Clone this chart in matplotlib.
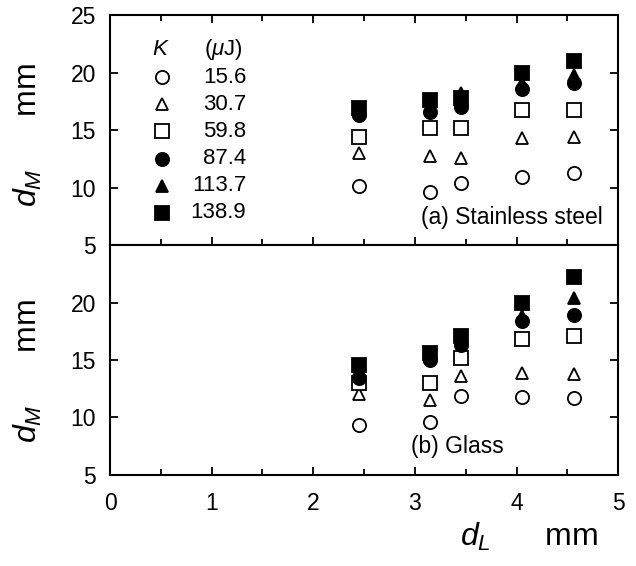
import matplotlib
matplotlib.use("Agg")
import matplotlib.pyplot as plt
from matplotlib.ticker import MultipleLocator

plt.rcParams['font.family'] = ['Liberation Sans', 'DejaVu Sans']
plt.rcParams['mathtext.fontset'] = 'custom'
plt.rcParams['mathtext.rm'] = 'Liberation Sans'
plt.rcParams['mathtext.it'] = 'Liberation Sans:italic'

# laser energies K (uJ) and marker styles
energies = ['15.6', '30.7', '59.8', '87.4', '113.7', '138.9']
markers = ['o', '^', 's', 'o', '^', 's']
filled = [False, False, False, True, True, True]

# d_L positions (mm)
d_L = [2.45, 3.15, 3.45, 4.05, 4.57]

# (a) stainless steel, d_M (mm), one list per energy
steel = [
    [10.1, 9.6, 10.4, 10.9, 11.3],
    [13.0, 12.7, 12.6, 14.3, 14.4],
    [14.4, 15.2, 15.2, 16.7, 16.7],
    [16.3, 16.6, 17.0, 18.6, 19.1],
    [16.6, 17.0, 18.2, 19.1, 19.8],
    [16.9, 17.6, 17.8, 20.0, 21.0],
]

# (b) glass
glass = [
    [9.3, 9.6, 11.9, 11.8, 11.7],
    [12.0, 11.5, 13.6, 13.9, 13.8],
    [13.0, 13.0, 15.2, 16.8, 17.1],
    [13.4, 15.0, 16.3, 18.4, 18.9],
    [14.1, 15.3, 16.7, 18.8, 20.4],
    [14.6, 15.6, 17.1, 20.0, 22.2],
]

fig = plt.figure(figsize=(6.36, 5.66), dpi=100)
ax1 = fig.add_axes([0.173, 0.567, 0.799, 0.4065])
ax2 = fig.add_axes([0.173, 0.161, 0.799, 0.406], sharex=ax1)


def draw(ax, data, label_y):
    for vals, m, f in zip(data, markers, filled):
        ms = 9.5 if m != '^' else 8.5
        ax.plot(d_L, vals, linestyle='', marker=m, markersize=ms,
                markerfacecolor='black' if f else 'white',
                markeredgecolor='black', markeredgewidth=1.3)
    ax.set_ylim(5, 25)
    ax.set_xlim(0, 5)
    ax.xaxis.set_major_locator(MultipleLocator(1))
    ax.xaxis.set_minor_locator(MultipleLocator(0.5))
    ax.yaxis.set_major_locator(MultipleLocator(5))
    ax.tick_params(which='both', direction='in', labelsize=16.5, width=1.3)
    ax.tick_params(axis='y', pad=10)
    ax.tick_params(axis='x', pad=12)
    ax.tick_params(which='major', length=6)
    ax.tick_params(which='minor', length=4)
    for s in ax.spines.values():
        s.set_linewidth(1.5)
    ax.set_ylabel(r'$d_M$      mm', fontsize=23)
    ax.yaxis.set_label_coords(-0.13, label_y)


draw(ax1, steel, 0.48)
draw(ax2, glass, 0.45)

ax1.tick_params(which='both', top=True, bottom=True, right=True, labelbottom=False)
ax2.tick_params(which='both', top=False, bottom=True, right=True)
ax2.set_yticks([5, 10, 15, 20])
ax1.set_yticks([5, 10, 15, 20, 25])

ax2.set_xlabel(r'$d_L$      mm', fontsize=23)
ax2.xaxis.set_label_coords(0.825, -0.2)
ax2.xaxis.label.set_va('top')

# legend drawn by hand so the numbers line up on the right
ax1.text(0.10, 0.848, r'$K$', transform=ax1.transAxes, fontsize=16,
         ha='center', va='center')
ax1.text(0.262, 0.848, r'($\mu$J)', transform=ax1.transAxes, fontsize=16,
         ha='right', va='center')
for i, (lab, m, f) in enumerate(zip(energies, markers, filled)):
    yy = 0.730 - i * 0.118
    ax1.plot([0.102], [yy], transform=ax1.transAxes, linestyle='', marker=m,
             markersize=9.5 if m != '^' else 8.5,
             markerfacecolor='black' if f else 'white',
             markeredgecolor='black', markeredgewidth=1.3, clip_on=False)
    ax1.text(0.268, yy, lab, transform=ax1.transAxes, fontsize=16,
             ha='right', va='center')

ax1.text(0.969, 0.122, '(a) Stainless steel', transform=ax1.transAxes,
         fontsize=16.5, ha='right', va='center')
ax2.text(0.683, 0.122, '(b) Glass', transform=ax2.transAxes,
         fontsize=16.5, ha='center', va='center')

fig.savefig('out.png', dpi=100)
